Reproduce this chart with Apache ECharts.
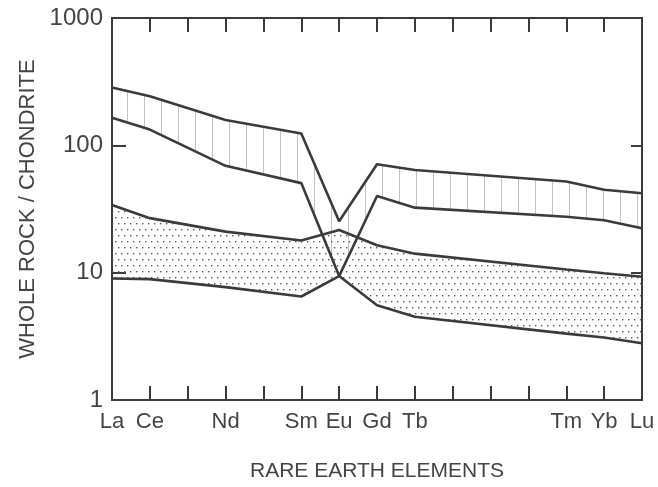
<!DOCTYPE html>
<html>
<head>
<meta charset="utf-8">
<script src="https://cdn.jsdelivr.net/npm/echarts@6/dist/echarts.min.js"></script>
<style>
html,body{margin:0;padding:0;background:#fff;}
#chart{width:658px;height:487px;}
</style>
</head>
<body>
<div id="chart"></div>
<script>
// Categories (REE, chondrite-normalised plot)
var elements = ['La','Ce','Pr','Nd','Pm','Sm','Eu','Gd','Tb','Dy','Ho','Er','Tm','Yb','Lu'];
var shownLabels = ['La','Ce','Nd','Sm','Eu','Gd','Tb','Tm','Yb','Lu'];
var yTicks = [1, 10, 100, 1000];

// Hatched field (vertical lines): upper and lower boundaries
var hatchUpper = [285, 243, null, 158, null, 124, 25.3, 71, 64, null, null, null, 52, 44.8, 42];
var hatchLower = [165, 133, null, 69, null, 50.5, 9.4, 40, 32.4, null, null, null, 27.5, 25.8, 22.3];
// Stippled field: upper and lower boundaries
var dotUpper = [34, 26.8, null, 21, null, 17.9, 21.6, 16.4, 14.1, null, null, null, 10.6, 9.9, 9.3];
var dotLower = [9.0, 8.9, null, 7.7, null, 6.5, 9.4, 5.55, 4.5, null, null, null, 3.32, 3.1, 2.79];

var LINE = '#3b3b3b';
var TEXT = '#444';
var FONT = 'Liberation Sans, Arial, sans-serif';

function makeHatch() {
  var c = document.createElement('canvas');
  c.width = 17; c.height = 8;
  var ctx = c.getContext('2d');
  ctx.fillStyle = '#c2c2c2';
  ctx.fillRect(8, 0, 1, 8);
  return c;
}
function makeDots() {
  var c = document.createElement('canvas');
  c.width = 12; c.height = 12;
  var ctx = c.getContext('2d');
  ctx.fillStyle = '#5a5a5a';
  [[1,1],[7,1],[4,7],[10,7]].forEach(function (p) { ctx.fillRect(p[0], p[1], 1.4, 1.4); });
  return c;
}
var hatchPattern = { image: makeHatch(), repeat: 'repeat' };
var dotPattern = { image: makeDots(), repeat: 'repeat' };

function bandSeries(upper, lower, pattern) {
  return {
    type: 'custom',
    xAxisIndex: 0, yAxisIndex: 0,
    silent: true,
    data: [[0, 1]],
    z: 1,
    renderItem: function (params, api) {
      var pts = [];
      for (var i = 0; i < upper.length; i++) {
        if (upper[i] != null) pts.push(api.coord([i, upper[i]]));
      }
      for (var j = lower.length - 1; j >= 0; j--) {
        if (lower[j] != null) pts.push(api.coord([j, lower[j]]));
      }
      return { type: 'polygon', shape: { points: pts }, style: { fill: pattern, stroke: null } };
    }
  };
}

function lineSeries(data) {
  return {
    type: 'line', data: data, connectNulls: true, symbol: 'none', z: 3,
    lineStyle: { color: LINE, width: 2.6 }, silent: true, animation: false
  };
}

var chart = echarts.init(document.getElementById('chart'));
chart.setOption({
  animation: false,
  backgroundColor: '#fff',
  grid: { left: 112, right: 16, top: 18, bottom: 85 },
  xAxis: [{
    type: 'category', data: elements, boundaryGap: false, position: 'bottom',
    axisLine: { lineStyle: { color: LINE, width: 2 } },
    axisTick: { inside: true, length: 14, interval: 0, lineStyle: { color: LINE, width: 2 } },
    axisLabel: {
      interval: 0, margin: 11, color: TEXT, fontSize: 22, fontFamily: FONT,
      formatter: function (v) { return shownLabels.indexOf(v) >= 0 ? v : ''; }
    },
    splitLine: { show: false },
    name: 'RARE EARTH ELEMENTS', nameLocation: 'middle', nameGap: 61,
    nameTextStyle: { color: TEXT, fontSize: 21, fontFamily: FONT }
  }, {
    type: 'category', data: elements, boundaryGap: false, position: 'top',
    axisLine: { lineStyle: { color: LINE, width: 2 } },
    axisTick: { inside: true, length: 14, interval: 0, lineStyle: { color: LINE, width: 2 } },
    axisLabel: { show: false }, splitLine: { show: false }
  }],
  yAxis: [{
    type: 'log', logBase: 10, min: 1, max: 1000, position: 'left',
    axisLine: { show: true, lineStyle: { color: LINE, width: 2 } },
    axisTick: { show: true, inside: true, length: 14, lineStyle: { color: LINE, width: 2 } },
    axisLabel: {
      margin: 9, color: TEXT, fontSize: 24, fontFamily: FONT,
      formatter: function (v) { return yTicks.indexOf(Math.round(v)) >= 0 ? String(Math.round(v)) : ''; }
    },
    minorTick: { show: false },
    splitLine: { show: false },
    name: 'WHOLE ROCK / CHONDRITE', nameLocation: 'middle', nameGap: 72, nameRotate: 90,
    nameTextStyle: { color: TEXT, fontSize: 22, fontFamily: FONT }
  }, {
    type: 'log', logBase: 10, min: 1, max: 1000, position: 'right',
    axisLine: { show: true, lineStyle: { color: LINE, width: 2 } },
    axisTick: { show: true, inside: true, length: 11, lineStyle: { color: LINE, width: 2 } },
    axisLabel: { show: false }, splitLine: { show: false }
  }],
  series: [
    bandSeries(hatchUpper, hatchLower, hatchPattern),
    bandSeries(dotUpper, dotLower, dotPattern),
    lineSeries(hatchUpper),
    lineSeries(hatchLower),
    lineSeries(dotUpper),
    lineSeries(dotLower)
  ]
});
</script>
</body>
</html>
